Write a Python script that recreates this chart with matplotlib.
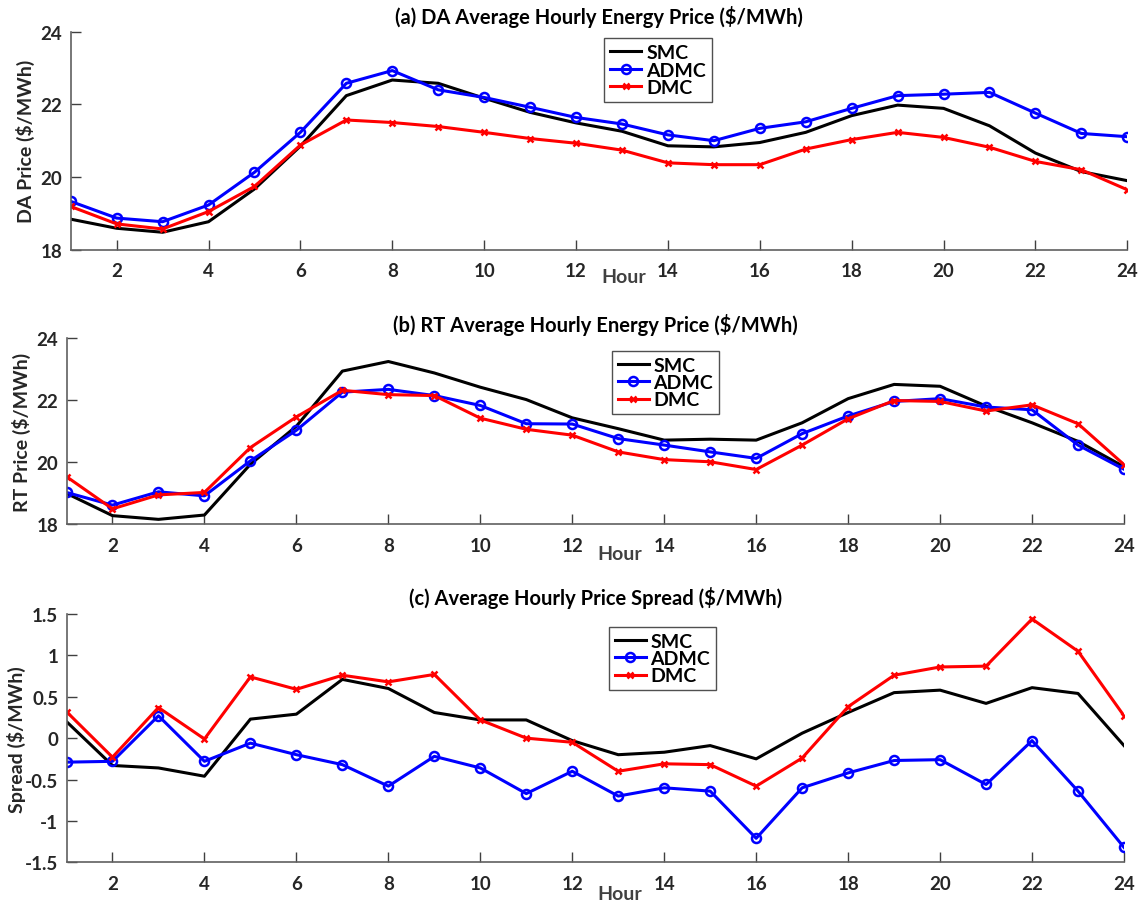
import matplotlib
matplotlib.use("Agg")
import matplotlib.pyplot as plt

plt.rcParams['font.family'] = ['Lato', 'DejaVu Sans']
plt.rcParams['font.weight'] = 'bold'

hours = list(range(1, 25))

da_smc = [18.84, 18.59, 18.48, 18.77, 19.67, 20.85, 22.24, 22.67, 22.58, 22.17, 21.78, 21.49,
          21.26, 20.86, 20.83, 20.95, 21.23, 21.69, 21.98, 21.89, 21.41, 20.66, 20.15, 19.90]
da_admc = [19.33, 18.87, 18.77, 19.23, 20.13, 21.23, 22.58, 22.93, 22.40, 22.19, 21.92, 21.64,
           21.46, 21.16, 21.00, 21.34, 21.52, 21.89, 22.24, 22.28, 22.33, 21.76, 21.20, 21.11]
da_dmc = [19.19, 18.71, 18.57, 19.05, 19.74, 20.88, 21.57, 21.50, 21.39, 21.23, 21.06, 20.93,
          20.74, 20.39, 20.34, 20.34, 20.77, 21.03, 21.23, 21.09, 20.82, 20.43, 20.20, 19.65]

rt_smc = [18.99, 18.27, 18.15, 18.29, 19.93, 21.16, 22.94, 23.25, 22.88, 22.42, 22.02, 21.43,
          21.08, 20.71, 20.74, 20.71, 21.27, 22.05, 22.51, 22.45, 21.81, 21.27, 20.67, 19.85]
rt_admc = [19.02, 18.61, 19.04, 18.91, 20.04, 21.03, 22.26, 22.35, 22.15, 21.83, 21.24, 21.23,
           20.76, 20.55, 20.33, 20.12, 20.92, 21.49, 21.96, 22.05, 21.78, 21.69, 20.55, 19.77]
rt_dmc = [19.53, 18.49, 18.94, 19.02, 20.47, 21.46, 22.32, 22.18, 22.15, 21.42, 21.06, 20.87,
          20.33, 20.08, 20.01, 19.76, 20.55, 21.40, 21.99, 21.96, 21.65, 21.85, 21.24, 19.92]

sp_smc = [0.20, -0.33, -0.36, -0.46, 0.23, 0.29, 0.71, 0.60, 0.31, 0.22, 0.22, -0.03,
          -0.20, -0.17, -0.09, -0.25, 0.06, 0.31, 0.55, 0.58, 0.42, 0.61, 0.54, -0.09]
sp_admc = [-0.29, -0.28, 0.27, -0.28, -0.06, -0.20, -0.32, -0.58, -0.22, -0.36, -0.67, -0.40,
           -0.70, -0.60, -0.64, -1.21, -0.60, -0.42, -0.27, -0.26, -0.56, -0.03, -0.64, -1.32]
sp_dmc = [0.32, -0.23, 0.37, -0.01, 0.74, 0.59, 0.76, 0.68, 0.77, 0.22, 0.00, -0.05,
          -0.40, -0.31, -0.32, -0.58, -0.24, 0.38, 0.76, 0.86, 0.87, 1.44, 1.05, 0.27]

series_names = ['SMC', 'ADMC', 'DMC']
xticks = list(range(2, 25, 2))

titles = ['(a) DA Average Hourly Energy Price ($/MWh)',
          '(b) RT Average Hourly Energy Price ($/MWh)',
          '(c) Average Hourly Price Spread ($/MWh)']
ylabels = ['DA Price ($/MWh)', 'RT Price ($/MWh)', 'Spread ($/MWh)']
price_ticks = [18, 20, 22, 24]
spread_ticks = [-1.5, -1, -0.5, 0, 0.5, 1, 1.5]
spread_ticklabels = ['-1.5', '-1', '-0.5', '0', '0.5', '1', '1.5']

W, H = 1145, 903
fig = plt.figure(figsize=(W / 100, H / 100), dpi=100)

def fx(px):
    return px / W

def fy(py):
    return 1 - py / H

# pixel boxes: left, right, top, bottom
boxes = [(70.7, 1127.3, 32.7, 250.7), (66.5, 1124, 339.3, 525), (66.5, 1124, 615, 863.3)]
title_y = [17, 325, 598]
ylabel_x = [25, 21, 16]
hour_pos = [(624, 278), (620, 555), (620, 895)]
legend_pos = [(604.3, 39.3), (611.7, 351.7), (608.7, 627.7)]

data = [(da_smc, da_admc, da_dmc), (rt_smc, rt_admc, rt_dmc), (sp_smc, sp_admc, sp_dmc)]
tick_color = '#262626'
spine_color = '#606060'

for i in range(3):
    l, r, t, b = boxes[i]
    ax = fig.add_axes([fx(l), fy(b), fx(r - l), (b - t) / H])
    s, a, d = data[i]
    ax.plot(hours, s, color='black', lw=2.2, label=series_names[0])
    ax.plot(hours, a, color='blue', lw=2.2, marker='o', ms=6.5, mfc='none', mew=1.8,
            label=series_names[1])
    ax.plot(hours, d, color='red', lw=2.2, marker='x', ms=4.5, mew=1.8, label=series_names[2])
    ax.set_xlim(1, 24)
    ax.set_xticks(xticks)
    if i < 2:
        ax.set_ylim(18, 24)
        ax.set_yticks(price_ticks)
    else:
        ax.set_ylim(-1.5, 1.5)
        ax.set_yticks(spread_ticks)
        ax.set_yticklabels(spread_ticklabels)
    for sp in ['top', 'right']:
        ax.spines[sp].set_visible(False)
    for sp in ['left', 'bottom']:
        ax.spines[sp].set_color(spine_color)
        ax.spines[sp].set_linewidth(1.2)
    ax.tick_params(axis='both', direction='in', length=7, width=1, color='#404040',
                   labelsize=13.5, labelcolor=tick_color)
    ax.tick_params(axis='x', pad=9)
    ax.tick_params(axis='y', pad=6)
    for lab in ax.get_xticklabels() + ax.get_yticklabels():
        lab.set_fontweight('bold')
    fig.text(fx((l + r) / 2), fy(title_y[i]), titles[i], ha='center', va='center',
             fontsize=14.5, fontweight='bold', color='black')
    fig.text(fx(ylabel_x[i]), fy((t + b) / 2), ylabels[i], rotation=90, ha='center',
             va='center', fontsize=14, fontweight='bold', color=tick_color)
    hx, hy = hour_pos[i]
    fig.text(fx(hx), fy(hy), 'Hour', ha='center', va='center', fontsize=14,
             fontweight='bold', color='#404040')
    lx, ly = legend_pos[i]
    leg = ax.legend(loc='upper left', bbox_to_anchor=(fx(lx), fy(ly)),
                    bbox_transform=fig.transFigure, borderaxespad=0, fontsize=14,
                    handlelength=1.6, handletextpad=0.25, labelspacing=0.02,
                    borderpad=0.3, fancybox=False, framealpha=1)
    leg.get_frame().set_edgecolor('#505050')
    leg.get_frame().set_linewidth(1.0)
    for txt in leg.get_texts():
        txt.set_fontweight('bold')

fig.savefig('out.png', dpi=100)
